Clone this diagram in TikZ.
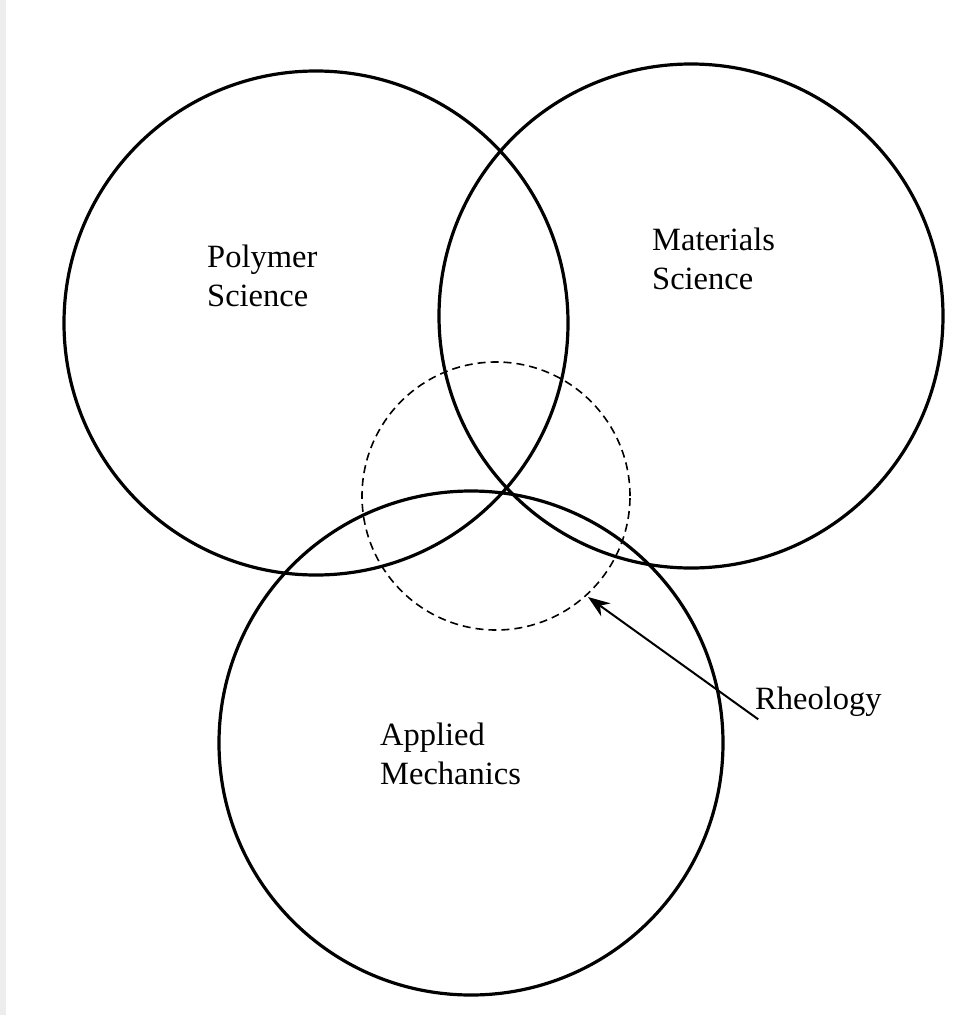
\documentclass[tikz,border=0pt]{standalone}
\usepackage{fontspec}
\setmainfont{Liberation Serif}
\usetikzlibrary{arrows.meta}
\begin{document}
\begin{tikzpicture}[x=1pt, y=-1pt,
  field/.style={circle, draw, line width=3.2pt, minimum size=504pt, inner sep=0pt},
  label/.style={align=left, anchor=west, inner sep=0pt, font=\fontsize{32.5}{39}\selectfont}]
  \useasboundingbox (0,0) rectangle (965,1015);
  \fill[black!7] (0,0) rectangle (6,1015);
  \node[field] (polymer) at (316,323) {};
  \node[field] (materials) at (691,316) {};
  \node[field] (mechanics) at (471,743) {};
  \node[circle, draw, dash pattern=on 8pt off 5pt, line width=1.6pt, minimum size=268pt] (rheo) at (496,496) {};
  \node[label] (polytext) at (207,276) {Polymer\\Science};
  \node[label] (mattext) at (652,259) {Materials\\Science};
  \node[label] (mechtext) at (380,754) {Applied\\Mechanics};
  \node[label] (rheotext) at (755,702) {Rheology};
  \coordinate (tip) at (588,597);
  \draw[-{Stealth[length=22pt,width=16pt]}, line width=2pt, shorten <=-4pt] (rheotext.south west) -- (tip);
\end{tikzpicture}
\end{document}
